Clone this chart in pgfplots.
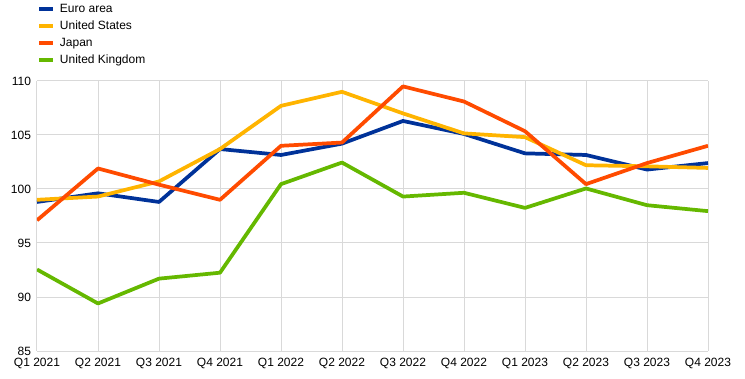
\documentclass[border=0pt]{standalone}
\usepackage{pgfplots}
\pgfplotsset{compat=1.18}
\usepackage{fontspec}
\setmainfont{Liberation Sans}
\definecolor{ecbblue}{HTML}{003299}
\definecolor{ecbyellow}{HTML}{FFB400}
\definecolor{ecborange}{HTML}{FF4B00}
\definecolor{ecbgreen}{HTML}{65B800}
\definecolor{gridgray}{HTML}{D9D9D9}
\begin{document}
\begin{tikzpicture}
\useasboundingbox (-27.75pt,-20.25pt) rectangle (531pt,263.25pt);
\begin{axis}[
  scale only axis,
  width=503.25pt, height=202.5pt,
  xmin=0, xmax=11, ymin=85, ymax=110,
  xtick={0,...,11},
  xticklabels={Q1 2021,Q2 2021,Q3 2021,Q4 2021,Q1 2022,Q2 2022,Q3 2022,Q4 2022,Q1 2023,Q2 2023,Q3 2023,Q4 2023},
  ytick={85,90,...,110},
  grid=major,
  major grid style={gridgray, line width=0.75pt},
  axis line style={draw=none},
  major tick length=0pt,
  /pgf/number format/assume math mode=true,
  ticklabel style={font=\fontsize{9}{10}\selectfont},
  xticklabel style={yshift=-2pt},
  yticklabel style={xshift=-1pt},
  legend style={at={(0,1)}, anchor=south west, yshift=11pt, draw=none, fill=none,
    font=\fontsize{9}{10}\selectfont, inner sep=0pt, row sep=3.75pt,
    nodes={inner sep=0pt, text height=7pt, text depth=2pt}},
  legend cell align=left,
  legend image code/.code={\draw[#1, line width=3pt] (0pt,0pt) -- (10pt,0pt);},
  every axis plot/.append style={line width=2.8pt, line join=round, mark=none},
]
\addplot[ecbblue] coordinates {(0,98.8) (1,99.6) (2,98.8) (3,103.7) (4,103.15) (5,104.2) (6,106.3) (7,105.1) (8,103.3) (9,103.15) (10,101.8) (11,102.4)};
\addlegendentry{\hspace{4pt}Euro area}
\addplot[ecbyellow] coordinates {(0,99.0) (1,99.3) (2,100.7) (3,103.7) (4,107.7) (5,109.0) (6,107.0) (7,105.15) (8,104.8) (9,102.2) (10,102.1) (11,101.95)};
\addlegendentry{\hspace{4pt}United States}
\addplot[ecborange] coordinates {(0,97.1) (1,101.9) (2,100.4) (3,99.0) (4,104.0) (5,104.3) (6,109.5) (7,108.1) (8,105.35) (9,100.45) (10,102.4) (11,104.0)};
\addlegendentry{\hspace{4pt}Japan}
\addplot[ecbgreen] coordinates {(0,92.55) (1,89.4) (2,91.7) (3,92.25) (4,100.45) (5,102.45) (6,99.3) (7,99.65) (8,98.25) (9,100.05) (10,98.5) (11,97.95)};
\addlegendentry{\hspace{4pt}United Kingdom}
\end{axis}
\end{tikzpicture}
\end{document}
